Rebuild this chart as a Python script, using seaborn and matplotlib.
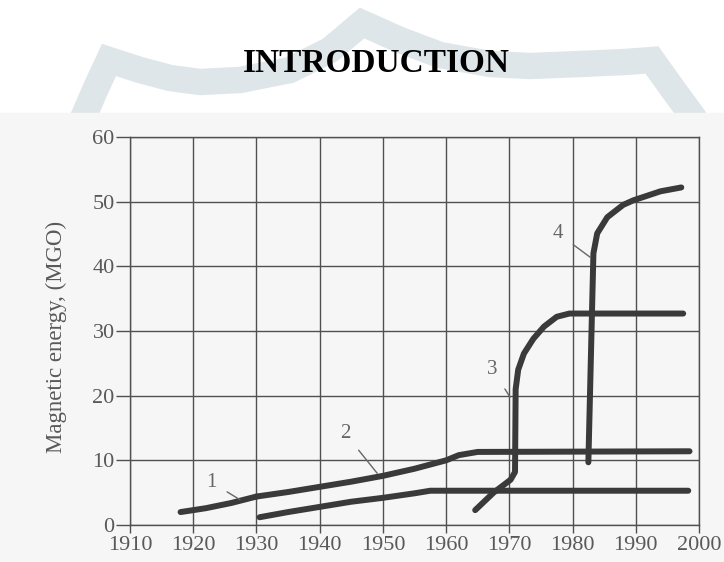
import pandas as pd
import matplotlib.pyplot as plt
import seaborn as sns

# curve 1 (up to 1930) and curve 2 (its continuation)
c1_years = [1918, 1922, 1926, 1930]
c1_vals = [2.0, 2.6, 3.4, 4.4]
c2_years = [1930, 1935, 1940, 1945, 1950, 1955, 1960, 1962, 1965, 1998.5]
c2_vals = [4.4, 5.1, 5.9, 6.7, 7.6, 8.7, 10.0, 10.8, 11.3, 11.4]

# lower unlabeled curve
low_years = [1930.5, 1935, 1940, 1945, 1950, 1955, 1957.5, 1998.3]
low_vals = [1.2, 2.0, 2.8, 3.6, 4.2, 4.9, 5.3, 5.3]

# curve 3
c3_years = [1964.6, 1967.5, 1970.2, 1970.9, 1971.0, 1971.4, 1972.3, 1973.8, 1975.5, 1977.5, 1979.5, 1997.5]
c3_vals = [2.3, 5.0, 7.0, 8.2, 21.0, 24.0, 26.5, 28.8, 30.7, 32.2, 32.7, 32.7]

# curve 4
c4_years = [1982.5, 1983.0, 1983.3, 1983.9, 1985.5, 1988.0, 1989.6, 1993.9, 1997.2]
c4_vals = [9.7, 30.0, 42.0, 45.1, 47.6, 49.5, 50.2, 51.6, 52.2]

# curve labels: text position and point of the leader line
lab_text = ['1', '2', '3', '4']
lab_xy = [(1922.9, 6.6), (1944.0, 14.2), (1967.3, 24.1), (1977.7, 45.1)]
lab_pt = [(1927.4, 3.9), (1949.1, 8.0), (1970.1, 19.8), (1982.8, 41.4)]

sns.set_theme(style='white')
plt.rcParams['font.family'] = ['Liberation Serif', 'DejaVu Serif']

fig = plt.figure(figsize=(7.24, 5.62), dpi=100)

# background: watermark band and the scanned page area
bg = fig.add_axes([0, 0, 1, 1], zorder=0)
bg.set_xlim(0, 724)
bg.set_ylim(562, 0)
bg.axis('off')
band_x = [83, 96, 109, 140, 170, 200, 240, 290, 330, 362, 400, 440, 490, 530, 580, 625, 652, 672, 694]
band_y = [118, 88, 60, 70, 78, 82, 80, 70, 50, 23, 40, 55, 64, 66, 64, 62, 60, 88, 118]
bg.plot(band_x, band_y, color='#dfe6e9', lw=19, solid_joinstyle='miter')
bg.add_patch(plt.Rectangle((0, 113), 724, 449, color='#f6f6f6', zorder=3))

fig.text(376 / 724, 1 - 64 / 562, 'INTRODUCTION', ha='center', va='center',
         fontsize=24, fontweight='bold', color='black')

ax = fig.add_axes([130 / 724, 1 - 525 / 562, 569 / 724, 388 / 562], zorder=1)
ax.set_facecolor('none')

line_col = '#3a3a3a'
for xs, ys in [(c1_years, c1_vals), (c2_years, c2_vals), (low_years, low_vals),
               (c3_years, c3_vals), (c4_years, c4_vals)]:
    df = pd.DataFrame({'year': xs, 'energy': ys})
    sns.lineplot(data=df, x='year', y='energy', ax=ax, sort=False, estimator=None,
                 color=line_col, lw=4.3, solid_capstyle='round', zorder=3)

for t, xy, pt in zip(lab_text, lab_xy, lab_pt):
    ax.annotate(t, xy=pt, xytext=xy, fontsize=15, color='#666666', ha='center', va='center',
                arrowprops=dict(arrowstyle='-', color='#666666', lw=1.0, shrinkA=6, shrinkB=0))

grid_col = '#505050'
ax.set_xlim(1910, 2000)
ax.set_ylim(0, 60)
ax.set_xticks(range(1910, 2001, 10))
ax.set_yticks(range(0, 61, 10))
ax.grid(True, color=grid_col, lw=1.0)
for s in ax.spines.values():
    s.set_visible(True)
    s.set_color(grid_col)
    s.set_linewidth(1.0)
ax.tick_params(axis='y', left=True, length=10, width=1, color=grid_col,
               labelsize=16, labelcolor='#595959', pad=1)
ax.tick_params(axis='x', bottom=True, length=6, width=1, color=grid_col,
               labelsize=16, labelcolor='#595959', pad=2)
ax.set_xlabel('')
ax.set_ylabel('Magnetic energy, (MGO)', fontsize=16.5, color='#595959')
ax.yaxis.set_label_coords(-0.11, 0.485)

fig.savefig('out.png', dpi=100)
